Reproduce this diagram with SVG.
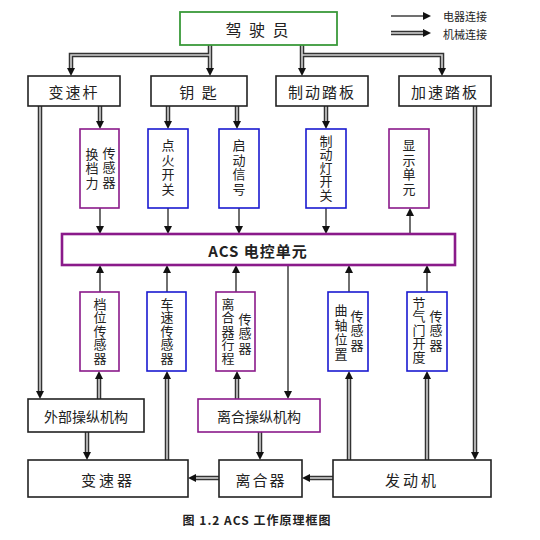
<svg xmlns="http://www.w3.org/2000/svg" width="540" height="540" viewBox="0 0 540 540">
<style>
text{font-family:"Noto Sans CJK SC","Liberation Sans",sans-serif;fill:#222;}
.bx{fill:#fff;stroke:#222;stroke-width:1.6;}
.pu{fill:#fff;stroke:#8a1a8a;stroke-width:1.6;}
.bl{fill:#fff;stroke:#1a1ad0;stroke-width:1.6;}
.gr{fill:#fff;stroke:#3a9a3a;stroke-width:1.8;}
.t1{font-size:15px;text-anchor:middle;dominant-baseline:central;letter-spacing:2px;}
.t2{font-size:14px;text-anchor:middle;dominant-baseline:central;}
.v{font-size:13px;text-anchor:middle;writing-mode:vertical-rl;letter-spacing:1.5px;}
.dd{fill:none;stroke:#333;stroke-width:4.5;}
.dl{fill:none;stroke:#d0d0d0;stroke-width:1.6;}
.s{fill:none;stroke:#222;stroke-width:1.3;}
</style>
<defs>
<marker id="ah" markerUnits="userSpaceOnUse" markerWidth="9" markerHeight="8" refX="0" refY="4" orient="auto" overflow="visible"><path d="M0,0 L8,4 L0,8 z" fill="#111"/></marker>
</defs>

<g id="connectors">
<g id="mech-dark" class="dd">
<path d="M210,45 V68" marker-end="url(#ah)"/>
<path d="M210,55 H71 V68" marker-end="url(#ah)"/>
<path d="M302,45 V68" marker-end="url(#ah)"/>
<path d="M302,55 H442 V68" marker-end="url(#ah)"/>
<path d="M40,106 V391" marker-end="url(#ah)"/>
<path d="M100,106 V121" marker-end="url(#ah)"/>
<path d="M168,106 V121" marker-end="url(#ah)"/>
<path d="M237,106 V121" marker-end="url(#ah)"/>
<path d="M326,106 V121" marker-end="url(#ah)"/>
<path d="M475,106 V452" marker-end="url(#ah)"/>
<path d="M99,399 V379" marker-end="url(#ah)"/>
<path d="M167,460 V379" marker-end="url(#ah)"/>
<path d="M237,399 V379" marker-end="url(#ah)"/>
<path d="M349,460 V379" marker-end="url(#ah)"/>
<path d="M427,460 V379" marker-end="url(#ah)"/>
<path d="M87,432 V452" marker-end="url(#ah)"/>
<path d="M260,432 V452" marker-end="url(#ah)"/>
<path d="M219,478 H196" marker-end="url(#ah)"/>
<path d="M333,478 H310" marker-end="url(#ah)"/>
<path d="M391,33 H423" marker-end="url(#ah)"/>
</g>
<g id="mech-light" class="dl">
<path d="M210,45 V68"/>
<path d="M210,55 H71 V68"/>
<path d="M302,45 V68"/>
<path d="M302,55 H442 V68"/>
<path d="M40,106 V391"/>
<path d="M100,106 V121"/>
<path d="M168,106 V121"/>
<path d="M237,106 V121"/>
<path d="M326,106 V121"/>
<path d="M475,106 V452"/>
<path d="M99,399 V379"/>
<path d="M167,460 V379"/>
<path d="M237,399 V379"/>
<path d="M349,460 V379"/>
<path d="M427,460 V379"/>
<path d="M87,432 V452"/>
<path d="M260,432 V452"/>
<path d="M219,478 H196"/>
<path d="M333,478 H310"/>
<path d="M391,33 H423"/>
</g>
<g id="elec" class="s">
<path d="M391,16 H423" marker-end="url(#ah)"/>
<path d="M100,208 V226" marker-end="url(#ah)"/>
<path d="M168,208 V226" marker-end="url(#ah)"/>
<path d="M239,208 V226" marker-end="url(#ah)"/>
<path d="M326,208 V226" marker-end="url(#ah)"/>
<path d="M410,234 V216" marker-end="url(#ah)"/>
<path d="M100,292 V273" marker-end="url(#ah)"/>
<path d="M167,292 V273" marker-end="url(#ah)"/>
<path d="M236,292 V273" marker-end="url(#ah)"/>
<path d="M349,292 V273" marker-end="url(#ah)"/>
<path d="M427,292 V273" marker-end="url(#ah)"/>
<path d="M288,265 V391" marker-end="url(#ah)"/>
</g>
</g>

<g id="legend">
<text x="443" y="16" style="font-size:11px;dominant-baseline:central">电器连接</text>
<text x="443" y="34" style="font-size:11px;dominant-baseline:central">机械连接</text>
</g>

<g id="driver"><rect class="gr" x="180" y="12" width="157" height="33"/><text class="t1" x="258" y="29" style="font-size:16px">驾 驶 员</text></g>

<g id="shift-lever"><rect class="bx" x="28" y="76" width="92" height="30"/><text class="t1" x="74" y="91">变速杆</text></g>
<g id="key"><rect class="bx" x="151" y="76" width="96" height="30"/><text class="t1" x="199" y="91">钥 匙</text></g>
<g id="brake-pedal"><rect class="bx" x="276" y="76" width="92" height="30"/><text class="t1" x="322" y="91">制动踏板</text></g>
<g id="accel-pedal"><rect class="bx" x="399" y="76" width="92" height="30"/><text class="t1" x="445" y="91">加速踏板</text></g>

<g id="shift-force-sensor"><rect class="pu" x="80" y="129" width="39" height="79"/>
<text class="v" x="92" y="169">换档力</text>
<text class="v" x="109" y="168">传感器</text></g>
<g id="ignition-switch"><rect class="bl" x="148" y="129" width="40" height="79"/>
<text class="v" x="168" y="168">点火开关</text></g>
<g id="start-signal"><rect class="bl" x="219" y="129" width="40" height="79"/>
<text class="v" x="239" y="168">启动信号</text></g>
<g id="brake-light-switch"><rect class="bl" x="306" y="129" width="40" height="79"/>
<text class="v" x="326" y="168" style="letter-spacing:0.5px">制动灯开关</text></g>
<g id="display-unit"><rect class="pu" x="389" y="129" width="40" height="79"/>
<text class="v" x="409" y="168">显示单元</text></g>

<g id="acs"><rect x="62" y="234" width="393" height="31" fill="#fff" stroke="#8a1a8a" stroke-width="2.6"/>
<text x="258" y="250" style="font-size:15px;font-weight:bold;text-anchor:middle;dominant-baseline:central;letter-spacing:1px">ACS 电控单元</text></g>

<g id="gear-sensor"><rect class="pu" x="80" y="292" width="39" height="79"/>
<text class="v" x="100" y="331" style="letter-spacing:0.5px">档位传感器</text></g>
<g id="speed-sensor"><rect class="bl" x="147" y="292" width="39" height="79"/>
<text class="v" x="167" y="331" style="letter-spacing:0.5px">车速传感器</text></g>
<g id="clutch-travel-sensor"><rect class="pu" x="216" y="292" width="39" height="79"/>
<text class="v" x="228" y="331" style="letter-spacing:0.5px">离合器行程</text>
<text class="v" x="245" y="334">传感器</text></g>
<g id="crank-sensor"><rect class="bl" x="328" y="292" width="40" height="79"/>
<text class="v" x="341" y="333">曲轴位置</text>
<text class="v" x="357" y="331">传感器</text></g>
<g id="throttle-sensor"><rect class="bl" x="407" y="292" width="40" height="79"/>
<text class="v" x="419" y="330" style="letter-spacing:0.5px">节气门开度</text>
<text class="v" x="436" y="331">传感器</text></g>

<g id="external-mechanism"><rect class="bx" x="28" y="399" width="116" height="33"/><text class="t2" x="86" y="416">外部操纵机构</text></g>
<g id="clutch-mechanism"><rect class="pu" x="198" y="399" width="122" height="33"/><text class="t2" x="259" y="416">离合操纵机构</text></g>
<g id="gearbox"><rect class="bx" x="28" y="460" width="160" height="37"/><text class="t1" x="108" y="479" style="letter-spacing:3px">变速器</text></g>
<g id="clutch"><rect class="bx" x="219" y="460" width="83" height="37"/><text class="t1" x="261" y="479">离合器</text></g>
<g id="engine"><rect class="bx" x="333" y="460" width="158" height="37"/><text class="t1" x="412" y="479" style="letter-spacing:3px">发动机</text></g>

<text x="257" y="519" style="font-size:12px;font-weight:bold;text-anchor:middle;dominant-baseline:central;letter-spacing:1px">图 1.2 ACS 工作原理框图</text>
</svg>
